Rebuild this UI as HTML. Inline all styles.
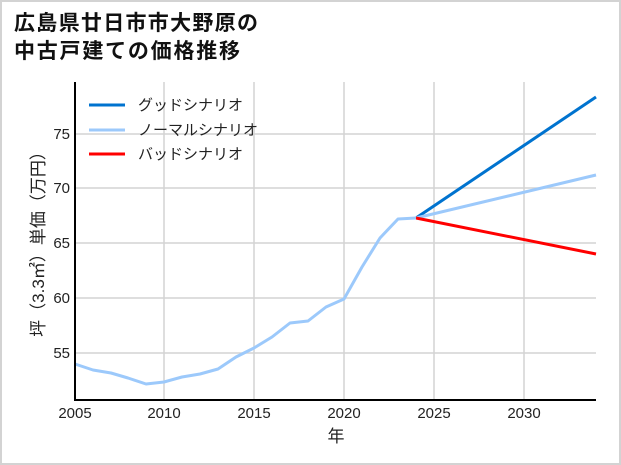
<!DOCTYPE html>
<html><head><meta charset="utf-8"><style>
html,body{margin:0;padding:0;background:#fff}
svg{display:block}
text{font-family:"Liberation Sans","Noto Sans CJK JP",sans-serif}
</style></head><body>
<svg width="621" height="465" viewBox="0 0 621 465" xmlns="http://www.w3.org/2000/svg">
<rect x="1" y="1" width="619" height="463" fill="#fff" stroke="#d3d3d3" stroke-width="2"/>
<text x="14" y="30" font-size="21" font-weight="bold" fill="#111" textLength="244">広島県廿日市市大野原の</text>
<text x="14" y="58" font-size="21" font-weight="bold" fill="#111" textLength="226">中古戸建ての価格推移</text>
<g stroke="#d3d3d3" stroke-width="1.5">
<line x1="164" y1="82" x2="164" y2="400"/><line x1="254" y1="82" x2="254" y2="400"/>
<line x1="344" y1="82" x2="344" y2="400"/><line x1="434" y1="82" x2="434" y2="400"/>
<line x1="524" y1="82" x2="524" y2="400"/>
<line x1="75" y1="134" x2="596" y2="134"/><line x1="75" y1="188" x2="596" y2="188"/>
<line x1="75" y1="243" x2="596" y2="243"/><line x1="75" y1="298" x2="596" y2="298"/>
<line x1="75" y1="353" x2="596" y2="353"/>
</g>
<g font-size="15" fill="#222" text-anchor="end">
<text x="70" y="139">75</text><text x="70" y="193">70</text><text x="70" y="248">65</text>
<text x="70" y="303">60</text><text x="70" y="358">55</text>
</g>
<g font-size="15" fill="#222" text-anchor="middle">
<text x="75" y="418">2005</text><text x="164" y="418">2010</text><text x="254" y="418">2015</text>
<text x="344" y="418">2020</text><text x="434" y="418">2025</text><text x="524" y="418">2030</text>
<text x="336" y="442" font-size="17">年</text>
</g>
<text transform="translate(44,240) rotate(-90)" font-size="17" fill="#222" text-anchor="middle">坪（3.3㎡）単価（万円）</text>
<polyline fill="none" stroke="#0073cf" stroke-width="3" points="416,218 596,97"/>
<polyline fill="none" stroke="#9cc9fb" stroke-width="3" points="416,218 596,175"/>
<polyline fill="none" stroke="#ff0000" stroke-width="3" points="416,218 596,254"/>
<polyline fill="none" stroke="#9cc9fb" stroke-width="3" stroke-linejoin="round" points="75,364 93,370 111,373 128,378 146,384 164,382 182,377 200,374 218,369 236,357 254,348 272,337 290,323 308,321 326,307 344,299 362,267 380,238 398,219 416,218"/>
<line x1="75" y1="82" x2="75" y2="401" stroke="#000" stroke-width="2"/>
<line x1="74" y1="400" x2="596" y2="400" stroke="#000" stroke-width="2"/>
<line x1="89" y1="105" x2="125" y2="105" stroke="#0073cf" stroke-width="3"/>
<line x1="89" y1="130" x2="125" y2="130" stroke="#9cc9fb" stroke-width="3"/>
<line x1="89" y1="154" x2="125" y2="154" stroke="#ff0000" stroke-width="3"/>
<g font-size="15" fill="#222">
<text x="138" y="110">グッドシナリオ</text>
<text x="138" y="135">ノーマルシナリオ</text>
<text x="138" y="159">バッドシナリオ</text>
</g>
</svg>
</body></html>
